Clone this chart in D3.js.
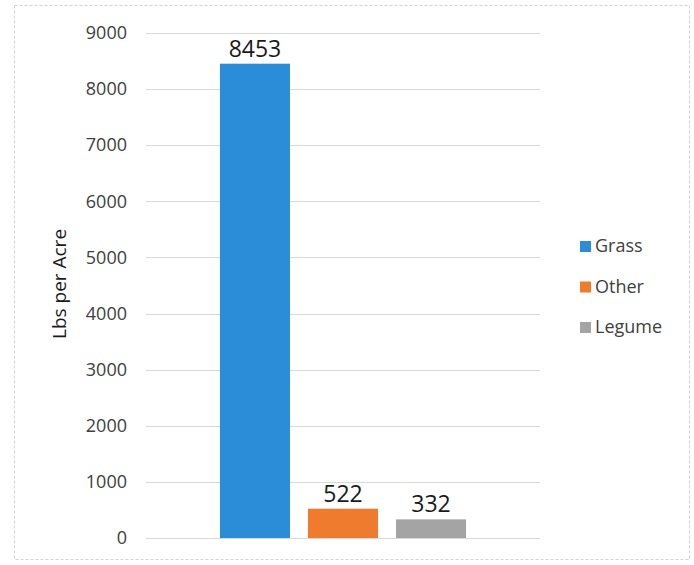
<!DOCTYPE html>
<html>
<head>
<style>
  body { margin: 0; background: #fff; }
  svg text { font-family: "Open Sans", "Noto Sans", sans-serif; }
</style>
</head>
<body>
<div id="chart"></div>
<script src="https://d3js.org/d3.v7.min.js"></script>
<script>
// data
var series = ["Grass", "Other", "Legume"];
var values = [8453, 522, 332];
var colors = ["#2b8cd8", "#ef7b2e", "#a4a4a4"];
var yTicks = [0, 1000, 2000, 3000, 4000, 5000, 6000, 7000, 8000, 9000];

var W = 694, H = 565;
var margin = {top: 33, right: 154, bottom: 27, left: 146};
var width = W - margin.left - margin.right,
    height = H - margin.top - margin.bottom;

var svg = d3.select("#chart").append("svg")
    .attr("width", W)
    .attr("height", H);

// outer frame
svg.append("rect")
    .attr("x", 14.5).attr("y", 5.5)
    .attr("width", 675).attr("height", 554)
    .attr("fill", "#fff")
    .attr("stroke", "#d4d4d4")
    .attr("stroke-dasharray", "3,2");

var g = svg.append("g")
    .attr("transform", "translate(" + margin.left + "," + margin.top + ")");

var x = d3.scaleBand()
    .domain(series)
    .range([0, width])
    .paddingInner(0.2045)
    .paddingOuter(0.84);

var y = d3.scaleLinear()
    .domain([0, 9000])
    .range([height, 0]);

// gridlines
g.append("g")
  .selectAll("line")
  .data(yTicks)
  .enter().append("line")
    .attr("x1", 0).attr("x2", width)
    .attr("y1", function(d) { return Math.round(y(d)) + 0.5; })
    .attr("y2", function(d) { return Math.round(y(d)) + 0.5; })
    .attr("stroke", "#d9d9d9")
    .attr("stroke-width", 1);

// y axis labels
var yAxis = g.append("g")
    .call(d3.axisLeft(y).tickValues(yTicks).tickFormat(d3.format("d")).tickSize(0).tickPadding(19));
yAxis.select(".domain").remove();
yAxis.selectAll("text")
    .attr("font-size", "18px")
    .attr("fill", "#404040");

// bars
g.append("g")
  .selectAll("rect")
  .data(values)
  .enter().append("rect")
    .attr("x", function(d, i) { return x(series[i]); })
    .attr("y", function(d) { return y(d); })
    .attr("width", x.bandwidth())
    .attr("height", function(d) { return height - y(d); })
    .attr("fill", function(d, i) { return colors[i]; });

// data labels
g.append("g")
  .selectAll("text")
  .data(values)
  .enter().append("text")
    .attr("x", function(d, i) { return x(series[i]) + x.bandwidth() / 2; })
    .attr("y", function(d) { return y(d) - 7; })
    .attr("text-anchor", "middle")
    .attr("font-size", "23px")
    .attr("fill", "#1a1a1a")
    .text(function(d) { return d; });

// axis title
svg.append("text")
    .attr("transform", "translate(66,284) rotate(-90)")
    .attr("text-anchor", "middle")
    .attr("font-size", "19px")
    .attr("fill", "#1a1a1a")
    .text("Lbs per Acre");

// legend
var legend = svg.append("g")
    .attr("transform", "translate(580,246)");
var items = legend.selectAll("g")
    .data(series)
  .enter().append("g")
    .attr("transform", function(d, i) { return "translate(0," + (i * 40.5) + ")"; });
items.append("rect")
    .attr("x", 0).attr("y", -5)
    .attr("width", 11).attr("height", 11)
    .attr("fill", function(d, i) { return colors[i]; });
items.append("text")
    .attr("x", 15).attr("y", 0)
    .attr("dy", "0.35em")
    .attr("font-size", "18px")
    .attr("fill", "#404040")
    .text(function(d) { return d; });
</script>
</body>
</html>
